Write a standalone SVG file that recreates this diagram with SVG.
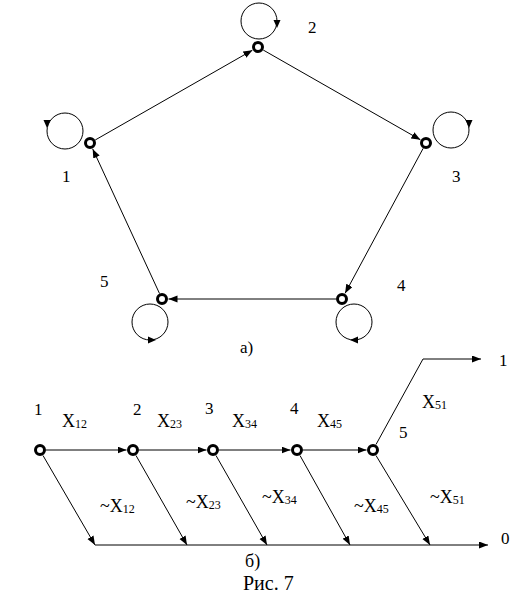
<svg xmlns="http://www.w3.org/2000/svg" width="530" height="602" viewBox="0 0 530 602">
<style>
text{font-family:"Liberation Serif","Times New Roman",serif;font-size:17px;fill:#000}
.sub{font-size:12px}
.x{font-size:18px}
.e{stroke:#000;stroke-width:1;fill:none}
.ring{fill:#fff;stroke:#000;stroke-width:3}
.loop{fill:none;stroke:#000;stroke-width:1}
.ah{fill:#000}
</style>
<defs>
<marker id="arr" markerUnits="userSpaceOnUse" markerWidth="10" markerHeight="8" refX="9" refY="3.5" orient="auto">
<path d="M0,0 L9,3.5 L0,7 Z" fill="#000"/>
</marker>
</defs>
<rect width="530" height="602" fill="#fff"/>
<g id="connectors">
<line class="e" x1="95.2" y1="140" x2="252.4" y2="50.2" marker-end="url(#arr)"/>
<line class="e" x1="263.2" y1="50" x2="420.4" y2="139.8" marker-end="url(#arr)"/>
<line class="e" x1="423.2" y1="148.3" x2="345.1" y2="293.3" marker-end="url(#arr)"/>
<line class="e" x1="336" y1="299" x2="168.5" y2="299" marker-end="url(#arr)"/>
<line class="e" x1="159.5" y1="293.5" x2="92.7" y2="148.9" marker-end="url(#arr)"/>
<line class="e" x1="46" y1="450" x2="126.5" y2="450" marker-end="url(#arr)"/>
<line class="e" x1="139" y1="450" x2="206.5" y2="450" marker-end="url(#arr)"/>
<line class="e" x1="219" y1="450" x2="290.5" y2="450" marker-end="url(#arr)"/>
<line class="e" x1="303" y1="450" x2="366.5" y2="450" marker-end="url(#arr)"/>
<polyline class="e" points="376,444.5 423,359 481,359" marker-end="url(#arr)"/>
<line class="e" x1="43" y1="455.5" x2="95" y2="545" marker-end="url(#arr)"/>
<line class="e" x1="136" y1="455.5" x2="187" y2="545" marker-end="url(#arr)"/>
<line class="e" x1="216" y1="455.5" x2="267" y2="545" marker-end="url(#arr)"/>
<line class="e" x1="300" y1="455.5" x2="350" y2="545" marker-end="url(#arr)"/>
<line class="e" x1="376" y1="455.5" x2="430" y2="545" marker-end="url(#arr)"/>
<line class="e" x1="95" y1="545" x2="488" y2="545" marker-end="url(#arr)"/>
</g>
<g id="node-a1">
<circle class="loop" cx="65" cy="131" r="18"/>
<polygon class="ah" points="43.5,120 50.5,120 47,128"/>
<circle class="ring" cx="90" cy="143" r="4.5"/>
<text x="62" y="182">1</text>
</g>
<g id="node-a2">
<circle class="loop" cx="259" cy="21" r="18"/>
<polygon class="ah" points="273.5,20 280.5,20 277,28"/>
<circle class="ring" cx="258" cy="47" r="4.5"/>
<text x="308" y="33">2</text>
</g>
<g id="node-a3">
<circle class="loop" cx="451" cy="130" r="18"/>
<polygon class="ah" points="465.5,120 472.5,120 469,128"/>
<circle class="ring" cx="426" cy="143" r="4.5"/>
<text x="452" y="182">3</text>
</g>
<g id="node-a4">
<circle class="loop" cx="354" cy="322" r="18"/>
<polygon class="ah" points="358,336.5 358,343.5 350,340"/>
<circle class="ring" cx="342" cy="299" r="4.5"/>
<text x="397" y="291">4</text>
</g>
<g id="node-a5">
<circle class="loop" cx="150" cy="322" r="18"/>
<polygon class="ah" points="148,336.5 148,343.5 156,340"/>
<circle class="ring" cx="162" cy="299" r="4.5"/>
<text x="100" y="287">5</text>
</g>
<text x="240" y="353">а)</text>
<g id="node-b1">
<circle class="ring" cx="40" cy="450" r="4.5"/>
<text x="34" y="415">1</text>
</g>
<g id="node-b2">
<circle class="ring" cx="133" cy="450" r="4.5"/>
<text x="133" y="415">2</text>
</g>
<g id="node-b3">
<circle class="ring" cx="213" cy="450" r="4.5"/>
<text x="205" y="414">3</text>
</g>
<g id="node-b4">
<circle class="ring" cx="297" cy="450" r="4.5"/>
<text x="290" y="414">4</text>
</g>
<g id="node-b5">
<circle class="ring" cx="373" cy="450" r="4.5"/>
<text x="399" y="438">5</text>
</g>
<g id="labels">
<text class="x" x="62" y="427">X<tspan class="sub" dy="1">12</tspan></text>
<text class="x" x="157" y="427">X<tspan class="sub" dy="1">23</tspan></text>
<text class="x" x="232" y="427">X<tspan class="sub" dy="1">34</tspan></text>
<text class="x" x="317" y="427">X<tspan class="sub" dy="1">45</tspan></text>
<text class="x" x="422" y="408">X<tspan class="sub" dy="1">51</tspan></text>
<text class="x" x="100" y="512">~X<tspan class="sub" dy="1">12</tspan></text>
<text class="x" x="186" y="508">~X<tspan class="sub" dy="1">23</tspan></text>
<text class="x" x="262" y="503">~X<tspan class="sub" dy="1">34</tspan></text>
<text class="x" x="354" y="512">~X<tspan class="sub" dy="1">45</tspan></text>
<text class="x" x="430" y="503">~X<tspan class="sub" dy="1">51</tspan></text>
<text x="499" y="366">1</text>
<text x="501" y="544">0</text>
<text x="245" y="567" style="font-size:18px">б)</text>
<text x="243" y="590" style="font-size:20px">Рис. 7</text>
</g>
</svg>
